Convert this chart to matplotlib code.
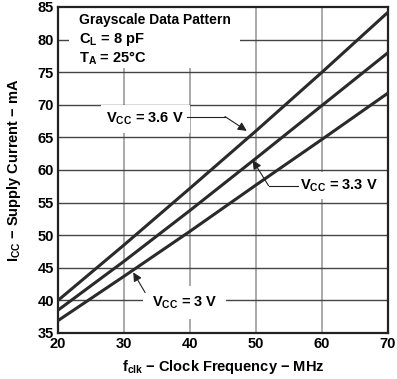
import matplotlib
matplotlib.use("Agg")
import matplotlib.pyplot as plt
from matplotlib.patches import Rectangle

plt.rcParams['font.family'] = ['Liberation Sans', 'DejaVu Sans']
plt.rcParams['font.weight'] = 'bold'
plt.rcParams['mathtext.fontset'] = 'custom'
plt.rcParams['mathtext.rm'] = 'Liberation Sans:bold'
plt.rcParams['mathtext.bf'] = 'Liberation Sans:bold'
plt.rcParams['mathtext.it'] = 'Liberation Sans:bold'

freq = [20, 30, 40, 50, 60, 70]
icc_36 = [40.0, 48.5, 57.2, 66.0, 75.0, 84.2]
icc_33 = [38.5, 46.0, 53.8, 61.8, 69.9, 78.0]
icc_30 = [36.9, 43.7, 50.6, 57.7, 64.7, 71.8]
xticks = [20, 30, 40, 50, 60, 70]
yticks = [35, 40, 45, 50, 55, 60, 65, 70, 75, 80, 85]

fig = plt.figure(figsize=(3.97, 3.79), dpi=100)
ax = fig.add_axes([58/397, 1 - 333/379, (388-58)/397, (333-7)/379])
ax.set_xlim(20, 70)
ax.set_ylim(35, 85)
ax.set_xticks(xticks)
ax.set_yticks(yticks)
ax.tick_params(length=0, labelsize=10.5, pad=3)
for lab in ax.get_xticklabels() + ax.get_yticklabels():
    lab.set_fontweight('bold')

for y in yticks[1:-1]:
    ax.axhline(y, color='#444444', lw=1.0, zorder=1)
for x in xticks[1:-1]:
    ax.axvline(x, color='#aaaaaa', lw=1.4, zorder=0.9)
for s in ax.spines.values():
    s.set_linewidth(1.6)
    s.set_color('#222222')

lc = '#2a2a2a'
ax.plot(freq, icc_36, color=lc, lw=2.2, zorder=5)
ax.plot(freq, icc_33, color=lc, lw=2.2, zorder=5)
ax.plot(freq, icc_30, color=lc, lw=2.2, zorder=5)

# white box behind conditions text
ax.add_patch(Rectangle((21.6, 75.6), 26.0, 9.4, facecolor='white', edgecolor='none', zorder=2))
ax.text(23.2, 83.0, 'Grayscale Data Pattern', fontsize=10, fontweight='bold', va='center', zorder=3)
ax.text(23.2, 80.0, r'$\mathregular{C_L}$ = 8 pF', fontsize=10.5, fontweight='bold', va='center', zorder=3)
ax.text(23.2, 77.2, r'$\mathregular{T_A}$ = 25°C', fontsize=10.5, fontweight='bold', va='center', zorder=3)

ap = dict(arrowstyle='-|>', color='#222222', lw=0.8, mutation_scale=13, shrinkA=0, shrinkB=0)

# 3.6 V label
ax.text(27.3, 67.8, r'$\mathregular{V_{CC}}$ = 3.6 V', fontsize=10.5, fontweight='bold',
        va='center', ha='left', bbox=dict(facecolor='white', edgecolor='none', pad=4), zorder=4)
ax.plot([39.5, 45.3], [68.2, 68.2], color='#222222', lw=0.8, zorder=4)
ax.annotate('', xy=(48.6, 66.0), xytext=(45.3, 68.2), arrowprops=ap, zorder=6)

# 3.3 V label
ax.text(56.7, 57.6, r'$\mathregular{V_{CC}}$ = 3.3 V', fontsize=10.5, fontweight='bold',
        va='center', ha='left', bbox=dict(facecolor='white', edgecolor='none', pad=4), zorder=4)
ax.plot([56.4, 51.9], [57.6, 57.6], color='#222222', lw=0.8, zorder=4)
ax.annotate('', xy=(49.5, 61.5), xytext=(51.9, 57.6), arrowprops=ap, zorder=6)

# 3 V label
ax.text(34.2, 39.7, r'$\mathregular{V_{CC}}$ = 3 V', fontsize=10.5, fontweight='bold',
        va='center', ha='left', bbox=dict(facecolor='white', edgecolor='none', pad=6), zorder=4)
ax.annotate('', xy=(31.4, 44.3), xytext=(33.2, 41.2), arrowprops=ap, zorder=6)

ax.set_xlabel(r'$\mathregular{f_{clk}}$ − Clock Frequency − MHz', fontsize=10.5, fontweight='bold', labelpad=5)
ax.set_ylabel(r'$\mathregular{I_{CC}}$ − Supply Current − mA', fontsize=10.5, fontweight='bold', labelpad=10)

fig.savefig('out.png', dpi=100)
